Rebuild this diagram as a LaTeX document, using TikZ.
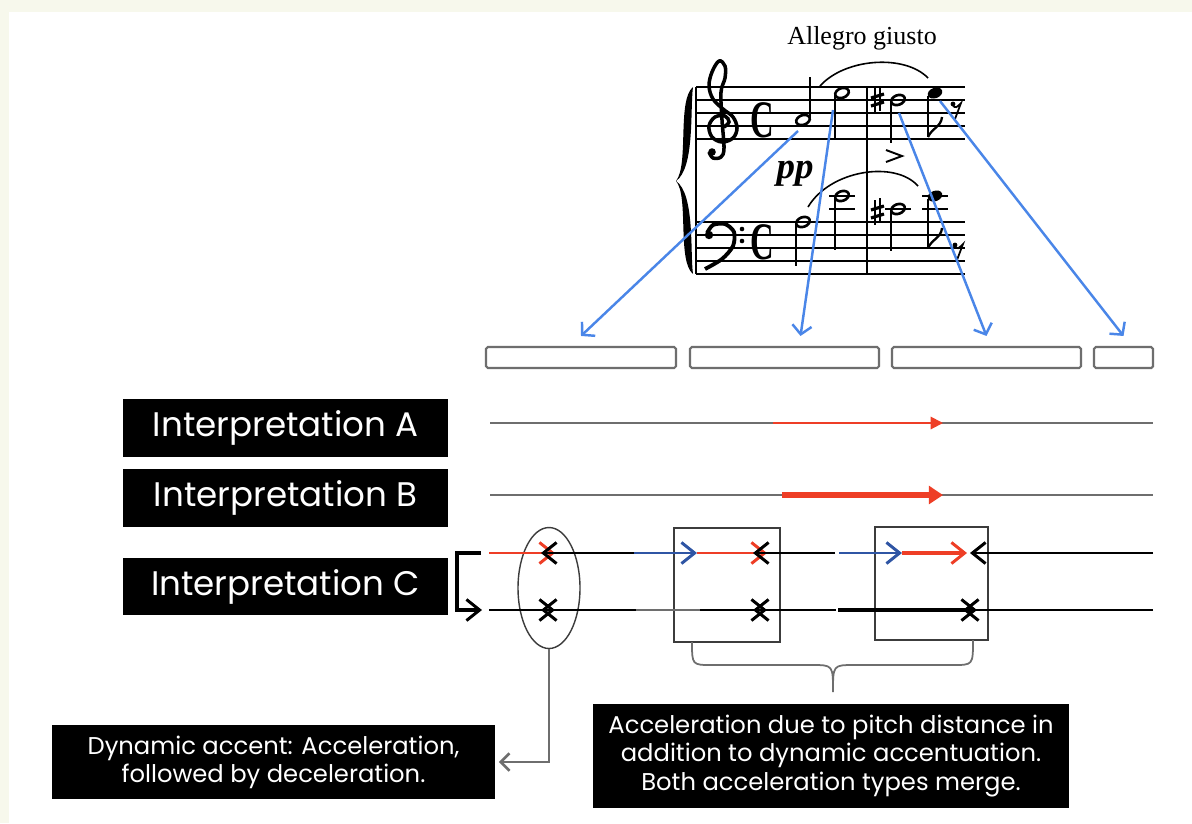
\documentclass[tikz,border=0pt]{standalone}
\usepackage{fontspec}
\setmainfont{Liberation Serif}
\newfontfamily\boxfont{Poppins}
\usetikzlibrary{arrows.meta,shapes.geometric,positioning}

\definecolor{cream}{HTML}{F7F8EC}
\definecolor{linkblue}{HTML}{4A86E8}
\definecolor{accred}{HTML}{EE3E26}
\definecolor{navy}{HTML}{2F55A4}
\definecolor{rulegray}{HTML}{6E6E6E}
\definecolor{framegray}{HTML}{3C3C3C}

\tikzset{
  interp/.style={fill=black, text=white, inner sep=0pt, minimum width=6.5cm,
    minimum height=1.15cm, font=\boxfont\fontsize{19.4}{22}\selectfont},
  textbox/.style={fill=black, text=white, inner sep=0pt, align=center,
    font=\boxfont\fontsize{13.8}{16}\selectfont},
  slot/.style={draw=rulegray, line width=1.2pt, rounded corners=1pt,
    minimum height=0.42cm, inner sep=0pt},
  frame/.style={draw=framegray, line width=0.8pt, inner sep=0pt},
  timeline/.style={rulegray, line width=1.1pt},
  barb/.style={-{Straight Barb[length=7.5pt,width=12pt,line width=1.7pt]}},
  link/.style={linkblue, line width=1.4pt, -{Straight Barb[length=5pt,width=11pt]}},
  staffline/.style={line width=0.6pt},
  notehead/.style={line width=1.5pt},
  stem/.style={line width=0.8pt},
}

\begin{document}
\begin{tikzpicture}[x=0.02cm, y=-0.02cm]
\fill[cream] (0,0) rectangle (1192,823);
\fill[white] (9,12) rectangle (1192,823);
\useasboundingbox (0,0) rectangle (1192,823);

% score
\node[font=\fontsize{14.8}{16}\selectfont] (tempo) at (862,38) {Allegro giusto};
\foreach \y in {87,100,113,126,139,222,235,248,261,274}
  \draw[staffline] (696,\y) -- (965,\y);
\draw[line width=0.9pt] (696,87) -- (696,274);
\draw[line width=0.8pt] (867,87) -- (867,274);
% brace
\fill (693,87) .. controls (677,100) and (689,165) .. (676,181)
  .. controls (695,168) and (690,108) .. (693,87);
\fill (693,274) .. controls (677,261) and (689,196) .. (676,181)
  .. controls (695,194) and (690,253) .. (693,274);
% clefs
\draw[line width=2pt] plot[smooth, tension=0.6] coordinates {(724,127) (729,122) (725,116)
  (715,117) (709,126) (712,137) (722,142) (733,138) (737,128) (733,117) (723,109)
  (713,99) (709,86) (712,72) (719,61) (725,66) (725,78) (721,92) (722,120)
  (724,148) (721,157) (713,158) (709,152)};
\fill (712,152) circle (3.8);
\fill (709,235) circle (4.2);
\draw[line width=2.2pt] plot[smooth] coordinates {(707,233) (713,225) (725,224)
  (734,232) (733,246) (722,259) (705,269)};
\fill (742,229) circle (2.3);
\fill (742,241) circle (2.3);
\node[font=\fontsize{30}{30}\selectfont\bfseries] (timeT) at (762,120) {\scalebox{0.62}[1]{C}};
\node[font=\fontsize{30}{30}\selectfont\bfseries] (timeB) at (762,242) {\scalebox{0.62}[1]{C}};
% treble notes
\draw[notehead, rotate around={20:(803,120)}] (803,120) ellipse (7 and 4.8);
\draw[stem] (810,117) -- (810,77);
\draw[notehead, rotate around={20:(842,93)}] (842,93) ellipse (7 and 4.8);
\draw[stem] (835,96) -- (835,138);
\draw[line width=0.7pt] (875,88) -- (875,113) (880,86) -- (880,111);
\draw[line width=1.8pt] (871,98) -- (884,94) (871,106) -- (884,102);
\draw[notehead, rotate around={20:(898,100)}] (898,100) ellipse (7 and 4.8);
\draw[stem] (891,103) -- (891,143);
\fill[rotate around={20:(935,93)}] (935,93) ellipse (7.5 and 5.2);
\draw[stem] (928,96) -- (928,137);
\draw[line width=1.3pt] (928,137) .. controls (932,128) and (941,127) .. (942,117);
\fill (953,104) circle (2.4);
\draw[line width=1pt] (953,106) .. controls (956,108) .. (961,103) -- (955,119);
\draw[line width=1.1pt] (886,150) -- (902,156) -- (886,162);
\node[font=\fontsize{21}{21}\selectfont\bfseries\itshape] (dyn) at (795,174) {pp};
\draw[line width=0.9pt] (820,86) .. controls (845,58) and (905,54) .. (928,78);
% bass notes
\draw[staffline] (829,209) -- (855,209) (829,196) -- (855,196) (885,209) -- (911,209)
  (922,209) -- (948,209) (922,196) -- (948,196);
\draw[notehead, rotate around={20:(803,222)}] (803,222) ellipse (7 and 4.8);
\draw[stem] (796,225) -- (796,266);
\draw[notehead, rotate around={20:(842,196)}] (842,196) ellipse (7 and 4.8);
\draw[stem] (835,199) -- (835,250);
\draw[line width=0.7pt] (875,200) -- (875,225) (880,198) -- (880,223);
\draw[line width=1.8pt] (871,210) -- (884,206) (871,218) -- (884,214);
\draw[notehead, rotate around={20:(898,209)}] (898,209) ellipse (7 and 4.8);
\draw[stem] (891,212) -- (891,251);
\fill[rotate around={20:(935,196)}] (935,196) ellipse (7.5 and 5.2);
\draw[stem] (928,199) -- (928,248);
\draw[line width=1.3pt] (928,248) .. controls (932,239) and (941,238) .. (942,228);
\fill (955,245) circle (2.4);
\draw[line width=1pt] (955,247) .. controls (958,249) .. (963,244) -- (957,260);
\draw[line width=0.9pt] (808,207) .. controls (830,170) and (895,160) .. (918,186);

% note anchors
\coordinate (nA) at (798,131);
\coordinate (nE) at (833,110);
\coordinate (nD) at (899,113);
\coordinate (nF) at (940,101);

% slots
\node[slot, minimum width=3.8cm] (slotA) at (581,357.5) {};
\node[slot, minimum width=3.78cm] (slotB) at (784.5,357.5) {};
\node[slot, minimum width=3.78cm] (slotC) at (986.5,357.5) {};
\node[slot, minimum width=1.18cm] (slotD) at (1123.5,357.5) {};

\draw[link] (nA) -- ([yshift=0.2cm]slotA.north);
\draw[link] (nE) -- ([xshift=0.32cm,yshift=0.2cm]slotB.north);
\draw[link] (nD) -- ([yshift=0.2cm]slotC.north);
\draw[link] (nF) -- ([yshift=0.2cm]slotD.north);

% interpretations
\node[interp] (interpA) at (285.5,428) {Interpretation A};
\node[interp] (interpB) at (285.5,498) {Interpretation B};
\node[interp] (interpC) at (285.5,586.5) {Interpretation C};

\coordinate (aS) at (490,423);
\coordinate (aE) at (1153,423);
\draw[timeline] (aS) -- (aE);
\draw[accred, line width=1.1pt, -{Triangle[length=7pt,width=7pt]}] (773,423) -- (943,423);

\coordinate (bS) at (490,495);
\coordinate (bE) at (1153,495);
\draw[timeline] (bS) -- (bE);
\draw[accred, line width=3.4pt, -{Triangle[length=8pt,width=10pt]}] (782,495) -- (943,495);

% interpretation C
\node[frame, ellipse, minimum width=1.24cm, minimum height=2.42cm] (accentC) at (549,588) {};
\node[frame, minimum width=2.12cm, minimum height=2.28cm] (mergeA) at (727,585) {};
\node[frame, minimum width=2.26cm, minimum height=2.26cm] (mergeB) at (931.5,583.5) {};

\coordinate (cUp) at (489,553);
\coordinate (cLow) at (489,610);
\draw[line width=1.8pt, barb] ([xshift=-0.16cm]cUp) -- ++(-24,0) |- ([xshift=-0.14cm]cLow);

% upper line
\draw[accred, line width=1.2pt, barb] (cUp) -- (555,553);
\draw[line width=1.2pt, barb] (634,553) -- (541,553);
\draw[navy, line width=1.2pt, barb] (634,553) -- (697,553);
\draw[accred, line width=1.2pt, barb] (697,553) -- (767,553);
\draw[line width=1.2pt, barb] (835,553) -- (753,553);
\draw[navy, line width=1.2pt, barb] (839,553) -- (902,553);
\draw[accred, line width=2.6pt, barb] (902,553) -- (967,553);
\draw[line width=1.2pt, barb] (1153,553) -- (970,553);
% lower line
\draw[line width=1.2pt, barb] (cLow) -- (555,610);
\draw[line width=1.2pt, barb] (636,610) -- (541,610);
\draw[rulegray, line width=1pt] (636,610) -- (700,610);
\draw[line width=1.2pt, barb] (700,610) -- (767,610);
\draw[line width=1.2pt, barb] (836,610) -- (753,610);
\draw[line width=2.6pt, barb] (838,610) -- (977,610);
\draw[line width=1.2pt, barb] (1153,610) -- (963,610);

% explanations
\node[textbox, minimum width=8.86cm, minimum height=1.48cm] (dynbox) at (273.5,762)
  {Dynamic accent: Acceleration,\\followed by deceleration.};
\node[textbox, minimum width=9.52cm, minimum height=2.08cm] (pitchbox) at (831,756)
  {Acceleration due to pitch distance in\\addition to dynamic accentuation.\\Both acceleration types merge.};

\draw[rulegray, line width=1.1pt, -{Straight Barb[length=5pt,width=10pt,line width=1.5pt]}, shorten >=2pt]
  (accentC.south) |- (dynbox.east);
\draw[rulegray, line width=1pt] (692,642) .. controls (692,665) .. (712,665) -- (812,665)
  .. controls (833,665) .. (833,692) .. controls (833,665) .. (854,665) -- (953,665)
  .. controls (973,665) .. (973,640);
\end{tikzpicture}
\end{document}
